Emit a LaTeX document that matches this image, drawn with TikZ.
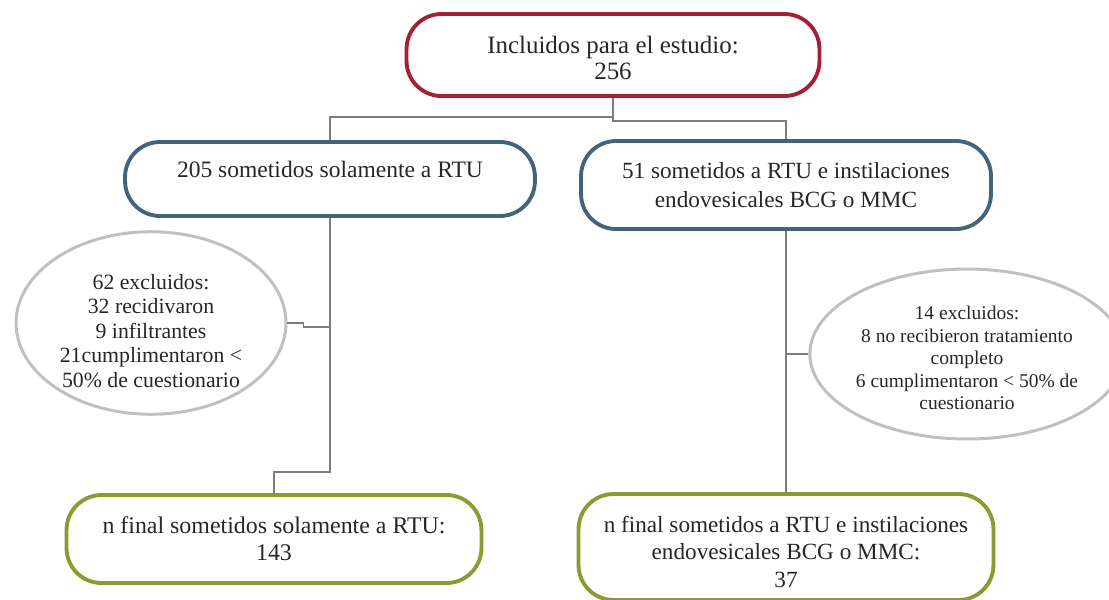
\documentclass[tikz,border=0pt]{standalone}
\usepackage{fontspec}
\setmainfont{Liberation Serif}
\usepackage{tikz}
\usetikzlibrary{shapes.geometric}

\definecolor{rojo}{RGB}{163,32,54}
\definecolor{azul}{RGB}{66,100,122}
\definecolor{gris}{RGB}{192,192,192}
\definecolor{oliva}{RGB}{141,154,48}
\definecolor{linea}{RGB}{125,125,125}

\begin{document}
\begin{tikzpicture}[x=0.02cm, y=-0.02cm, thick, text=black!85,
  main/.style = {draw, rounded corners=0.7cm, line width=2.2pt, align=center, inner sep=0pt},
  excl/.style = {draw=gris, ellipse, line width=1.7pt, align=center, inner sep=0pt}]
\useasboundingbox (0,0) rectangle (1109,599);
\node[main, draw=rojo, minimum width=8.26cm, minimum height=1.64cm, font=\fontsize{14.2}{14.8}\selectfont] (1) at (613,55) {\rule{0pt}{13pt}Incluidos para el estudio:\\256};
\node[main, draw=azul, minimum width=8.2cm, minimum height=1.48cm, text depth=11.4pt, font=\fontsize{13.4}{16.5}\selectfont] (2) at (330,179) {205 sometidos solamente a RTU};
\node[main, draw=azul, minimum width=8.2cm, minimum height=1.76cm, font=\fontsize{13.2}{16.5}\selectfont] (3) at (786,185) {51 sometidos a RTU e instilaciones\\endovesicales BCG o MMC};
\node[excl, minimum width=5.4cm, minimum height=3.56cm, font=\fontsize{12.4}{13.9}\selectfont] (4) at (151,323) {\rule{0pt}{17.7pt}62 excluidos:\\32 recidivaron\\9 infiltrantes\\21cumplimentaron <\\50\% de cuestionario};
\node[excl, minimum width=5.26cm, minimum height=3.4cm, font=\fontsize{11.1}{12.8}\selectfont] (5) at (967,354) {\rule{0pt}{12.3pt}14 excluidos:\\8 no recibieron tratamiento\\completo\\6 cumplimentaron < 50\% de\\cuestionario};
\node[main, draw=oliva, minimum width=8.3cm, minimum height=1.76cm, font=\fontsize{13.6}{15.2}\selectfont] (6) at (274,539) {n final sometidos solamente a RTU:\\143};
\node[main, draw=oliva, minimum width=8.3cm, minimum height=2.12cm, font=\fontsize{13.2}{15.5}\selectfont] (7) at (786,547) {\rule{0pt}{14.8pt}n final sometidos a RTU e instilaciones\\endovesicales BCG o MMC:\\37};
\draw[linea] (1.south) -- ++(0,19) -| (2.north);
\draw[linea] (1.south) -- ++(0,23) -| (3.north);
\draw[linea] (2.south) -- ++(0,254) -| (6.north);
\draw[linea] (4.east) -- ++(16,0) -- ++(0,4) -- (2.south |- 0,327);
\draw[linea] (3.south) -- (7.north);
\draw[linea] (5.west) -- (3.south |- 5.west);
\end{tikzpicture}
\end{document}
